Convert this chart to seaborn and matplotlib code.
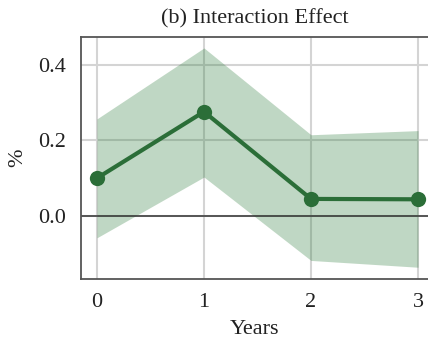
import matplotlib
matplotlib.use("Agg")
import matplotlib.pyplot as plt
import seaborn as sns
import pandas as pd

years = [0, 1, 2, 3]
effect = [0.100, 0.276, 0.045, 0.044]
ci_low = [-0.058, 0.103, -0.118, -0.136]
ci_high = [0.257, 0.445, 0.215, 0.226]

df = pd.DataFrame({"Years": years, "effect": effect, "lo": ci_low, "hi": ci_high})

sns.set_theme(style="whitegrid")
plt.rcParams["font.family"] = ["Liberation Serif", "DejaVu Serif"]

line_color = "#2b6e38"
fill_color = "#2e7d3c"

fig = plt.figure(figsize=(4.28, 3.41), dpi=100)
ax = fig.add_axes([0.189, 0.182, 0.811, 0.7095])

ax.fill_between(df["Years"], df["lo"], df["hi"], color=fill_color, alpha=0.3, linewidth=0, zorder=2)
sns.lineplot(data=df, x="Years", y="effect", ax=ax, color=line_color, linewidth=3,
             marker="o", markersize=11, markeredgewidth=0, zorder=3)
ax.axhline(0, color="#333333", linewidth=1.1, zorder=2.5)

ax.set_xlim(-0.15, 3.093)
ax.set_ylim(-0.167, 0.474)
ax.set_xticks(years)
ax.set_yticks([0.0, 0.2, 0.4])
ax.set_yticklabels(["0.0", "0.2", "0.4"])
ax.grid(True, color="#d4d4d4", linewidth=1.5, zorder=1)
ax.set_axisbelow(True)
ax.tick_params(axis="x", length=0, labelsize=16, pad=10, colors="#222222")
ax.tick_params(axis="y", length=0, labelsize=16, pad=11, colors="#222222")

for side in ["left", "bottom", "top"]:
    ax.spines[side].set_color("#555555")
    ax.spines[side].set_linewidth(1.3)
ax.spines["right"].set_visible(False)

ax.set_xlabel("Years", fontsize=16, color="#222222", labelpad=6)
ax.set_ylabel("%", fontsize=16, color="#222222")
ax.yaxis.set_label_coords(-0.155, 0.5)
ax.set_title("(b) Interaction Effect", fontsize=16, color="#222222", pad=10)

fig.savefig("out.png", dpi=100)
